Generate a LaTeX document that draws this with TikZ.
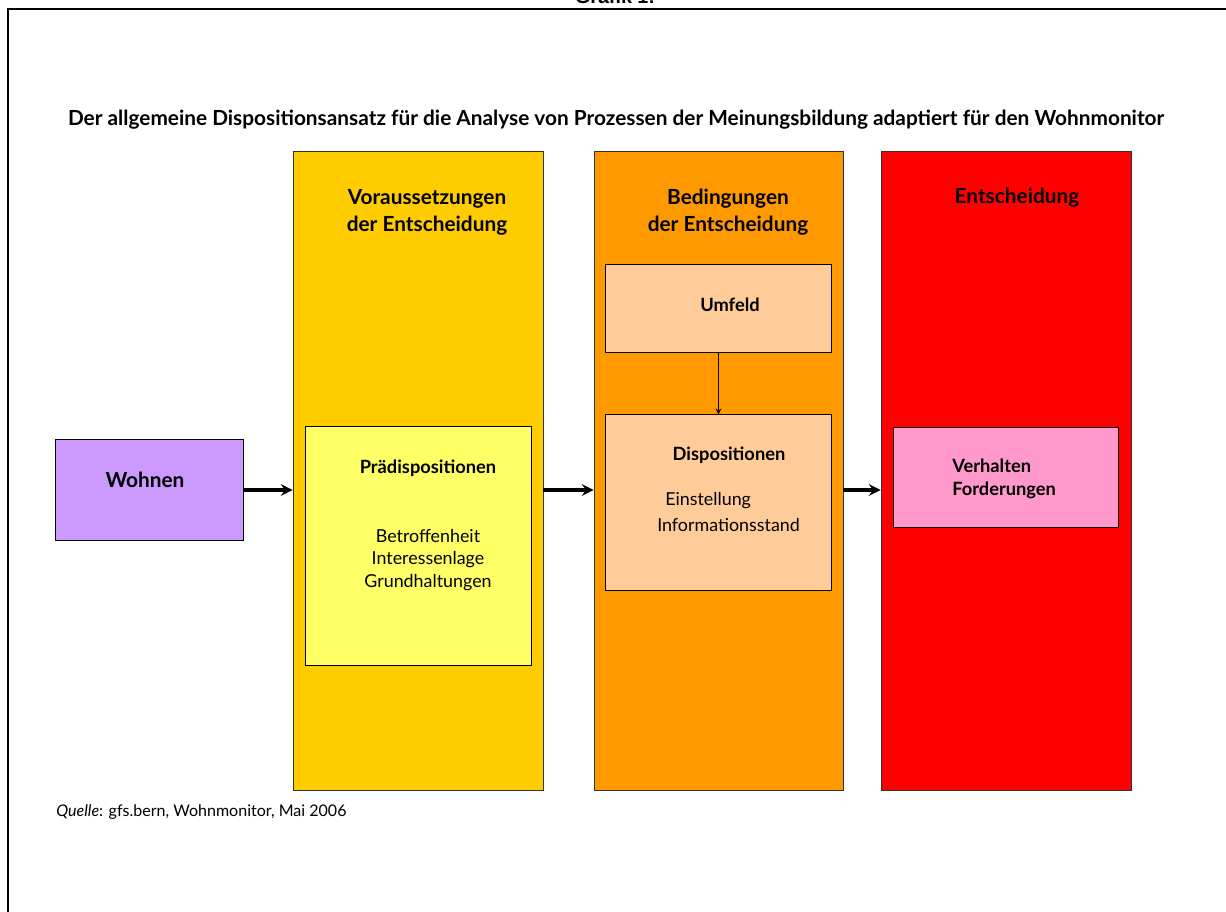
\documentclass[tikz,border=0pt]{standalone}
\usepackage{fontspec}
\setmainfont{Lato}
\newfontfamily\grafikfont{Liberation Sans}
\usetikzlibrary{arrows}
\definecolor{colgelb}{HTML}{FFCC00}
\definecolor{colorange}{HTML}{FF9900}
\definecolor{colrot}{HTML}{FF0000}
\definecolor{boxlila}{HTML}{CC99FF}
\definecolor{boxgelb}{HTML}{FFFF66}
\definecolor{boxhaut}{HTML}{FFCC99}
\definecolor{boxrosa}{HTML}{FF99CC}
\tikzstyle{spalte} = [rectangle, draw=black!80, line width=0.6pt, inner sep=0pt]
\tikzstyle{kasten} = [rectangle, draw=black, line width=0.7pt, inner sep=0pt]
\tikzstyle{kopf} = [align=center, font=\fontsize{14.8}{19.2}\selectfont\bfseries]
\tikzstyle{fett} = [font=\fontsize{13}{16.3}\selectfont\bfseries]
\tikzstyle{normal} = [align=center, font=\fontsize{12.7}{16.2}\selectfont]
\tikzstyle{arrow} = [line width=2.6pt,->,>=stealth]
\tikzstyle{thinarrow} = [line width=0.9pt,->,>=stealth]

\begin{document}
\begin{tikzpicture}[x=0.025cm,y=-0.025cm]
\useasboundingbox (0,0) rectangle (1226,912);

%frame
\coordinate (rahmenlu) at (8,912);
\coordinate (rahmenlo) at (8,9);
\coordinate (rahmenro) at (1226,9);
\draw[line width=0.8pt] (rahmenlu) -- (rahmenlo) -- (rahmenro);
\node[anchor=base, font=\grafikfont\fontsize{14}{16}\selectfont\bfseries] (grafik) at (615,4) {Grafik 1:};

%title
\node[font=\fontsize{14.8}{17}\selectfont\bfseries] (titel) at (616,120) {Der allgemeine Dispositionsansatz f\"ur die Analyse von Prozessen der Meinungsbildung adaptiert f\"ur den Wohnmonitor};

%columns
\node[spalte, fill=colgelb, minimum width=6.25cm, minimum height=15.95cm] (voraus) at (418,471) {};
\node[spalte, fill=colorange, minimum width=6.225cm, minimum height=15.95cm] (beding) at (718.5,471) {};
\node[spalte, fill=colrot, minimum width=6.25cm, minimum height=15.95cm] (entsch) at (1006,471) {};

\node[kopf] (vorauskopf) at (427,212) {Voraussetzungen\\der Entscheidung};
\node[kopf] (bedingkopf) at (728,212) {Bedingungen\\der Entscheidung};
\node[kopf] (entschkopf) at (1017,198) {Entscheidung};

%Wohnen
\node[kasten, fill=boxlila, minimum width=4.675cm, minimum height=2.5cm] (wohnen) at (149.5,490) {};
\node[font=\fontsize{14.8}{17}\selectfont\bfseries] (wohnentext) at (145,480) {Wohnen};

%Praedispositionen
\node[kasten, fill=boxgelb, minimum width=5.625cm, minimum height=5.95cm] (praedis) at (418.5,546) {};
\node[fett] (praedistitel) at (428,468) {Pr\"adispositionen};
\node[normal] (praedistext) at (428,560) {Betroffenheit\\Interessenlage\\Grundhaltungen};

%Umfeld
\node[kasten, fill=boxhaut, minimum width=5.625cm, minimum height=2.175cm] (umfeld) at (718.5,308.5) {};
\node[fett] (umfeldtext) at (730,305) {Umfeld};

%Dispositionen
\node[kasten, fill=boxhaut, minimum width=5.625cm, minimum height=4.375cm] (dispo) at (718.5,502.5) {};
\node[fett] (dispotitel) at (729,455) {Dispositionen};
\node[font=\fontsize{12.7}{16}\selectfont, anchor=west, inner xsep=0pt] (einst) at (665,501) {Einstellung};
\node[font=\fontsize{12.7}{16}\selectfont, anchor=west, inner xsep=0pt] (info) at (657,525) {Informationsstand};

%Verhalten
\node[kasten, fill=boxrosa, minimum width=5.6cm, minimum height=2.475cm] (verhalten) at (1006,477.5) {};
\node[fett, align=left, anchor=west, inner xsep=0pt] (verhaltentext) at (952,479) {Verhalten\\Forderungen};

%arrows
\draw[arrow] (wohnen.east) -- (voraus.west |- wohnen.east);
\draw[arrow] (voraus.east |- wohnen.east) -- (beding.west |- wohnen.east);
\draw[arrow] (beding.east |- wohnen.east) -- (entsch.west |- wohnen.east);
\draw[thinarrow] (umfeld.south) -- (dispo.north);

%source
\node[anchor=west, inner xsep=0pt, font=\fontsize{11.4}{13}\selectfont] (quelle) at (56,812) {\textit{Quelle}: gfs.bern, Wohnmonitor, Mai 2006};

\end{tikzpicture}
\end{document}
